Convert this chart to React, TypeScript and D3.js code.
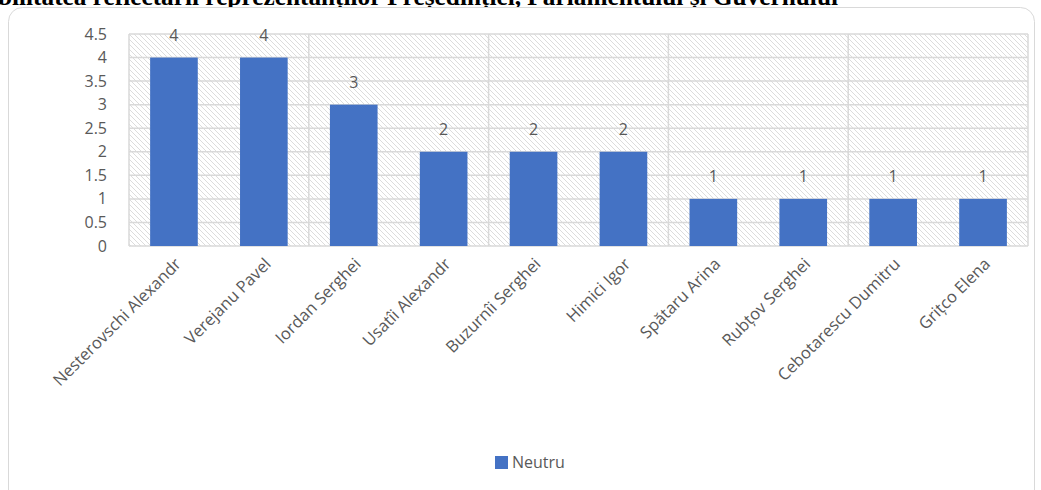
import React from "react";
import * as d3 from "d3";

const categories = [
  "Nesterovschi Alexandr",
  "Verejanu Pavel",
  "Iordan Serghei",
  "Usatîi Alexandr",
  "Buzurnîi Serghei",
  "Himici Igor",
  "Spătaru Arina",
  "Rubțov Serghei",
  "Cebotarescu Dumitru",
  "Grițco Elena",
];
const values = [4, 4, 3, 2, 2, 2, 1, 1, 1, 1];
const yTicks = [0, 0.5, 1, 1.5, 2, 2.5, 3, 3.5, 4, 4.5];
const seriesName = "Neutru";
const title =
  "Vizibilitatea reflectării reprezentanților Președinției, Parlamentului și Guvernului";

const W = 1041;
const H = 490;
const plot = { left: 129, right: 1028, top: 34, bottom: 246 };
const BAR = "#4472C4";
const GRID = "#d9d9d9";
const TEXT = "#595959";
const FONT = "'Open Sans', Lato, sans-serif";

export default function App() {
  const x = d3
    .scaleBand<string>()
    .domain(categories)
    .range([plot.left, plot.right])
    .paddingInner(0.47)
    .paddingOuter(0.235);
  const y = d3.scaleLinear().domain([0, 4.5]).range([plot.bottom, plot.top]);
  const step = x.step();
  const vLines = d3.range(0, categories.length + 1, 2).map((i) => plot.left + i * step);

  return (
    <svg
      width={W}
      height={H}
      style={{ position: "absolute", left: 0, top: 0, background: "#fff" }}
    >
      <defs>
        <pattern id="hatch" width="5" height="5" patternUnits="userSpaceOnUse">
          <path d="M-1,-1 L6,6 M-1,4 L1,6 M4,-1 L6,1" stroke="#dcdcdc" strokeWidth="1" />
        </pattern>
      </defs>
      <text
        x={838}
        y={5}
        textAnchor="end"
        fontFamily="'Liberation Serif', 'Times New Roman', serif"
        fontWeight="bold"
        fontSize={25.3}
        fill="#000"
      >
        {title}
      </text>
      <rect
        x={8.5}
        y={7.5}
        width={1026}
        height={500}
        rx={14}
        fill="#fff"
        stroke={GRID}
        strokeWidth={1}
      />
      <rect
        x={plot.left}
        y={plot.top}
        width={plot.right - plot.left}
        height={plot.bottom - plot.top}
        fill="url(#hatch)"
      />
      {yTicks.map((t) => (
        <line
          key={"h" + t}
          x1={plot.left}
          x2={plot.right}
          y1={y(t)}
          y2={y(t)}
          stroke={GRID}
          strokeWidth={1.5}
        />
      ))}
      {vLines.map((vx, i) => (
        <line
          key={"v" + i}
          x1={vx}
          x2={vx}
          y1={plot.top}
          y2={plot.bottom}
          stroke={GRID}
          strokeWidth={1.5}
        />
      ))}
      {yTicks.map((t) => (
        <text
          key={"yt" + t}
          x={107}
          y={y(t)}
          dy="0.35em"
          textAnchor="end"
          fontFamily={FONT}
          fontSize={16}
          fill={TEXT}
        >
          {String(t)}
        </text>
      ))}
      {categories.map((c, i) => (
        <rect
          key={"b" + c}
          x={x(c)!}
          y={y(values[i])}
          width={x.bandwidth()}
          height={y(0) - y(values[i])}
          fill={BAR}
        />
      ))}
      {categories.map((c, i) => (
        <text
          key={"l" + c}
          x={x(c)! + x.bandwidth() / 2}
          y={y(values[i]) - 17}
          textAnchor="middle"
          fontFamily={FONT}
          fontSize={16}
          fill={TEXT}
        >
          {values[i]}
        </text>
      ))}
      {categories.map((c) => (
        <text
          key={"x" + c}
          transform={`translate(${x(c)! + x.bandwidth() / 2 + 4},${plot.bottom + 15}) rotate(-45)`}
          textAnchor="end"
          dy="0.35em"
          fontFamily={FONT}
          fontSize={16.5}
          fill={TEXT}
        >
          {c}
        </text>
      ))}
      <rect x={495} y={456} width={13} height={13} fill={BAR} />
      <text
        x={512}
        y={462.5}
        dy="0.35em"
        fontFamily={FONT}
        fontSize={16}
        fill={TEXT}
      >
        {seriesName}
      </text>
    </svg>
  );
}
